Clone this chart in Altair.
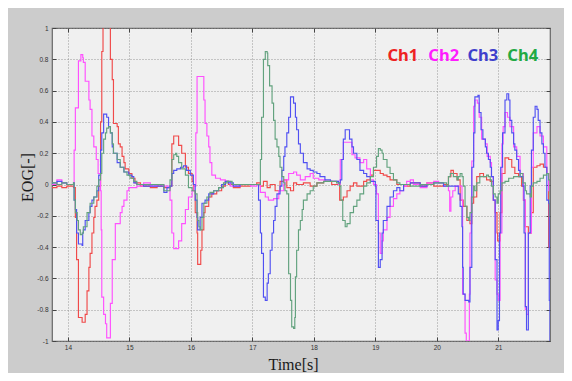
import altair as alt
import pandas as pd

# ---------------- data ----------------
channels = ["Ch1", "Ch2", "Ch3", "Ch4"]

ch1_t = [13.74, 13.82, 13.90, 13.98, 14.09, 14.12, 14.14, 14.17, 14.23, 14.28, 14.31, 14.34, 14.36, 14.39,
         14.42, 14.44, 14.47, 14.50, 14.53, 14.55, 14.57, 14.66, 14.69, 14.72, 14.74, 14.80, 14.82, 14.85,
         14.88, 14.91, 14.93, 14.99, 15.04, 15.09, 15.18, 15.34, 15.45, 15.56, 15.66, 15.69, 15.72, 15.77,
         15.80, 15.85, 15.91, 15.96, 16.02, 16.04, 16.07, 16.10, 16.11, 16.16, 16.18, 16.21, 16.23, 16.29,
         16.34, 16.42, 16.50, 16.56, 16.61, 16.69, 16.80, 16.97, 17.07, 17.13, 17.18, 17.24, 17.29, 17.37,
         17.45, 17.51, 17.56, 17.62, 17.67, 17.72, 17.83, 17.94, 18.05, 18.16, 18.29, 18.42, 18.48, 18.54,
         18.59, 18.645, 18.70, 18.81, 18.86, 18.92, 18.97, 19.08, 19.13, 19.19, 19.24, 19.35, 19.46, 19.57,
         19.73, 19.84, 19.95, 20.11, 20.19, 20.23, 20.27, 20.33, 20.38, 20.43, 20.49, 20.54, 20.57, 20.60,
         20.65, 20.70, 20.76, 20.81, 20.87, 20.92, 20.95, 20.98, 20.99, 21.03, 21.06, 21.11, 21.17, 21.22,
         21.27, 21.33, 21.38, 21.41, 21.44, 21.49, 21.54, 21.57, 21.63, 21.68, 21.735, 21.79, 21.82, 21.842]
ch1_v = [-0.02, -0.01, -0.02, -0.01, -0.02, -0.21, -0.48, -0.85, -0.88, -0.83, -0.68, -0.53, -0.44, -0.31,
         -0.21, -0.14, -0.10, -0.01, 0.40, 0.85, 1.2, 1.2, 0.80, 0.67, 0.39, 0.37, 0.26, 0.24,
         0.18, 0.14, 0.10, 0.07, 0.04, 0.01, -0.01, -0.02, -0.01, -0.02, -0.01, 0.26, 0.31, 0.31,
         0.25, 0.20, 0.11, 0.07, 0.02, -0.04, -0.18, -0.31, -0.51, -0.42, -0.29, -0.18, -0.14, -0.08,
         -0.06, -0.04, -0.01, 0.02, 0.00, -0.02, -0.01, 0.00, 0.01, -0.01, 0.02, -0.02, 0.00, -0.04,
         0.02, 0.03, -0.02, -0.04, 0.01, 0.00, 0.01, -0.01, 0.01, 0.02, 0.00, -0.10, -0.08, -0.04,
         -0.01, 0.01, -0.01, 0.02, 0.03, 0.06, 0.09, 0.07, 0.06, 0.05, 0.03, 0.00, -0.01, 0.01,
         -0.01, 0.01, -0.01, 0.00, 0.05, 0.09, 0.07, 0.03, -0.10, -0.14, -0.23, -0.25, -0.12, -0.08,
         0.05, 0.07, 0.05, 0.03, 0.02, -0.10, -0.18, -0.31, -0.36, -0.18, 0.07, 0.17, 0.16, 0.11,
         0.07, 0.05, -0.01, -0.10, -0.27, -0.31, -0.18, 0.11, 0.12, 0.13, 0.11, 0.07, -0.40, -0.40]

ch2_t = [13.74, 13.82, 13.90, 13.98, 14.09, 14.10, 14.12, 14.17, 14.21, 14.24, 14.25, 14.28, 14.34, 14.36,
         14.39, 14.42, 14.46, 14.49, 14.53, 14.54, 14.55, 14.58, 14.61, 14.63, 14.69, 14.72, 14.77, 14.85,
         14.88, 14.91, 14.96, 14.99, 15.12, 15.23, 15.34, 15.45, 15.56, 15.66, 15.69, 15.72, 15.80, 15.85,
         15.91, 15.96, 16.02, 16.05, 16.08, 16.10, 16.20, 16.21, 16.23, 16.26, 16.29, 16.31, 16.34, 16.40,
         16.48, 16.56, 16.64, 16.80, 16.97, 17.07, 17.13, 17.21, 17.26, 17.345, 17.43, 17.51, 17.53, 17.59,
         17.67, 17.72, 17.78, 17.86, 17.94, 17.99, 18.08, 18.18, 18.29, 18.40, 18.43, 18.48, 18.59, 18.62,
         18.67, 18.75, 18.81, 18.86, 18.92, 18.97, 19.02, 19.05, 19.08, 19.11, 19.13, 19.19, 19.24, 19.295,
         19.35, 19.40, 19.46, 19.51, 19.57, 19.62, 19.73, 19.84, 19.95, 20.03, 20.11, 20.19, 20.21, 20.23,
         20.26, 20.30, 20.35, 20.41, 20.42, 20.46, 20.48, 20.53, 20.54, 20.56, 20.57, 20.60, 20.62, 20.66,
         20.69, 20.73, 20.79, 20.82, 20.87, 20.89, 20.92, 20.95, 20.98, 21.00, 21.03, 21.06, 21.08, 21.11,
         21.15, 21.19, 21.25, 21.30, 21.355, 21.41, 21.44, 21.46, 21.49, 21.54, 21.57, 21.63, 21.68, 21.735,
         21.79, 21.82, 21.842]
ch2_v = [0.00, 0.03, 0.01, 0.00, 0.00, 0.22, 0.49, 0.79, 0.83, 0.81, 0.78, 0.66, 0.54, 0.48,
         0.31, 0.24, 0.16, 0.07, -0.04, -0.29, -0.72, -0.83, -0.89, -0.98, -0.76, -0.48, -0.25, -0.18,
         -0.14, -0.10, -0.04, -0.02, -0.01, 0.01, -0.01, 0.00, -0.01, -0.10, -0.31, -0.41, -0.36, -0.25,
         -0.16, -0.08, -0.04, -0.01, 0.33, 0.69, 0.69, 0.54, 0.39, 0.31, 0.24, 0.14, 0.06, 0.04,
         0.03, 0.02, -0.01, 0.00, -0.01, 0.00, -0.05, -0.08, -0.10, -0.09, -0.04, 0.00, 0.03, 0.07,
         0.08, 0.06, 0.03, 0.05, 0.07, 0.04, 0.03, 0.02, 0.02, 0.00, 0.16, 0.27, 0.27, 0.19,
         0.17, 0.14, 0.16, 0.10, 0.03, 0.00, -0.06, -0.31, -0.44, -0.36, -0.29, -0.21, -0.14, -0.09,
         -0.06, -0.04, -0.01, 0.02, 0.03, 0.00, -0.02, 0.01, 0.02, 0.01, -0.01, -0.04, -0.17, -0.08,
         -0.04, -0.01, -0.01, -0.10, -0.70, -0.95, -1.0, -0.70, -0.31, -0.08, 0.15, 0.50, 0.54, 0.52,
         0.43, 0.29, 0.26, 0.18, 0.14, 0.05, -0.10, -0.61, -0.70, -0.74, -0.31, 0.26, 0.37, 0.46,
         0.43, 0.37, 0.24, 0.18, 0.07, -0.10, -0.80, -0.83, -0.31, 0.11, 0.33, 0.37, 0.31, 0.24,
         0.07, -0.04, -0.04]

ch3_t = [13.74, 13.82, 13.90, 13.98, 14.09, 14.10, 14.12, 14.14, 14.17, 14.23, 14.24, 14.25, 14.28, 14.34,
         14.36, 14.39, 14.42, 14.47, 14.50, 14.53, 14.55, 14.58, 14.63, 14.66, 14.69, 14.72, 14.74, 14.80,
         14.85, 14.91, 14.99, 15.04, 15.07, 15.12, 15.23, 15.34, 15.45, 15.56, 15.61, 15.66, 15.69, 15.72,
         15.77, 15.83, 15.88, 15.93, 15.99, 16.04, 16.07, 16.10, 16.11, 16.15, 16.18, 16.23, 16.29, 16.37,
         16.45, 16.50, 16.56, 16.61, 16.69, 16.80, 16.97, 17.10, 17.13, 17.15, 17.18, 17.21, 17.24, 17.26,
         17.29, 17.32, 17.345, 17.37, 17.40, 17.45, 17.48, 17.51, 17.53, 17.56, 17.59, 17.62, 17.67, 17.70,
         17.72, 17.75, 17.78, 17.83, 17.89, 17.94, 17.99, 18.05, 18.10, 18.18, 18.27, 18.40, 18.43, 18.455,
         18.48, 18.51, 18.58, 18.62, 18.645, 18.70, 18.75, 18.81, 18.86, 18.92, 19.00, 19.01, 19.05, 19.08,
         19.11, 19.13, 19.19, 19.24, 19.295, 19.35, 19.40, 19.46, 19.57, 19.73, 19.84, 19.95, 20.11, 20.33,
         20.35, 20.38, 20.41, 20.42, 20.43, 20.46, 20.52, 20.54, 20.57, 20.60, 20.62, 20.67, 20.69, 20.72,
         20.75, 20.79, 20.81, 20.84, 20.87, 20.89, 20.92, 20.95, 20.98, 21.00, 21.02, 21.04, 21.07, 21.11,
         21.14, 21.17, 21.19, 21.22, 21.25, 21.27, 21.30, 21.33, 21.355, 21.40, 21.42, 21.44, 21.46, 21.49,
         21.52, 21.54, 21.57, 21.60, 21.63, 21.65, 21.68, 21.71, 21.735, 21.76, 21.79, 21.82, 21.83, 21.842]
ch3_v = [0.01, 0.02, 0.01, 0.00, 0.01, -0.10, -0.16, -0.31, -0.38, -0.39, -0.31, -0.29, -0.23, -0.18,
         -0.14, -0.10, -0.08, -0.04, 0.06, 0.22, 0.33, 0.45, 0.43, 0.37, 0.33, 0.24, 0.20, 0.14,
         0.11, 0.08, 0.06, 0.05, 0.01, 0.00, -0.01, -0.01, -0.01, -0.05, -0.02, -0.01, 0.07, 0.09,
         0.10, 0.11, 0.12, 0.09, 0.06, 0.00, -0.10, -0.21, -0.29, -0.21, -0.12, -0.10, -0.06, -0.04,
         -0.02, 0.00, 0.02, 0.01, -0.01, 0.00, 0.00, -0.10, -0.31, -0.44, -0.72, -0.74, -0.63, -0.57,
         -0.42, -0.31, -0.23, -0.14, -0.06, -0.01, 0.09, 0.18, 0.24, 0.33, 0.43, 0.56, 0.52, 0.43,
         0.35, 0.26, 0.20, 0.14, 0.10, 0.09, 0.08, 0.07, 0.05, 0.03, 0.02, 0.01, 0.03, 0.16,
         0.29, 0.35, 0.29, 0.24, 0.20, 0.16, 0.09, 0.07, 0.05, 0.02, -0.01, -0.23, -0.53, -0.48,
         -0.31, -0.23, -0.14, -0.08, -0.04, -0.02, -0.04, 0.00, 0.01, -0.01, 0.00, 0.01, -0.01, -0.01,
         -0.06, -0.14, -0.27, -0.53, -0.70, -0.74, -0.75, -0.53, 0.11, 0.33, 0.56, 0.57, 0.46, 0.35,
         0.29, 0.24, 0.20, 0.16, 0.11, 0.05, -0.10, -0.48, -0.93, -0.87, -0.31, 0.11, 0.33, 0.54,
         0.58, 0.54, 0.41, 0.33, 0.26, 0.22, 0.16, 0.09, 0.05, -0.01, -0.31, -0.78, -0.93, -0.31,
         -0.01, 0.22, 0.43, 0.50, 0.48, 0.41, 0.33, 0.26, 0.20, 0.11, -0.10, -0.12, -0.74, -1.0]

ch4_t = [13.74, 13.82, 13.90, 13.98, 14.09, 14.10, 14.12, 14.15, 14.17, 14.20, 14.23, 14.25, 14.31, 14.36,
         14.42, 14.47, 14.50, 14.53, 14.55, 14.58, 14.61, 14.63, 14.66, 14.69, 14.72, 14.74, 14.80, 14.85,
         14.91, 14.96, 15.01, 15.07, 15.12, 15.34, 15.56, 15.66, 15.69, 15.72, 15.75, 15.77, 15.80, 15.85,
         15.91, 15.96, 16.02, 16.07, 16.10, 16.11, 16.13, 16.15, 16.18, 16.21, 16.26, 16.31, 16.37, 16.45,
         16.53, 16.59, 16.67, 16.80, 17.10, 17.13, 17.15, 17.18, 17.21, 17.24, 17.25, 17.28, 17.32, 17.345,
         17.37, 17.40, 17.43, 17.45, 17.48, 17.51, 17.53, 17.56, 17.59, 17.62, 17.64, 17.67, 17.69, 17.70,
         17.72, 17.75, 17.78, 17.81, 17.83, 17.89, 17.94, 17.99, 18.05, 18.16, 18.29, 18.37, 18.42, 18.44,
         18.47, 18.51, 18.54, 18.59, 18.645, 18.70, 18.75, 18.81, 18.86, 18.92, 18.97, 19.02, 19.05, 19.08,
         19.11, 19.13, 19.19, 19.24, 19.295, 19.35, 19.40, 19.57, 19.73, 19.95, 20.16, 20.19, 20.22, 20.27,
         20.33, 20.35, 20.38, 20.41, 20.43, 20.46, 20.49, 20.52, 20.54, 20.57, 20.60, 20.62, 20.65, 20.70,
         20.81, 20.84, 20.87, 20.89, 20.92, 20.95, 20.98, 21.00, 21.03, 21.06, 21.11, 21.17, 21.25, 21.30,
         21.355, 21.40, 21.44, 21.46, 21.52, 21.54, 21.57, 21.63, 21.68, 21.735, 21.79, 21.82, 21.842]
ch4_v = [0.01, 0.00, 0.01, 0.00, 0.01, -0.10, -0.18, -0.23, -0.29, -0.32, -0.31, -0.27, -0.18, -0.12,
         -0.08, -0.01, 0.03, 0.07, 0.20, 0.29, 0.33, 0.36, 0.37, 0.33, 0.26, 0.20, 0.16, 0.11,
         0.08, 0.06, 0.04, 0.02, 0.00, 0.00, -0.04, 0.03, 0.16, 0.19, 0.20, 0.18, 0.14, 0.10,
         0.06, -0.02, -0.04, -0.06, -0.18, -0.23, -0.27, -0.29, -0.21, -0.12, -0.08, -0.05, -0.04, -0.02,
         0.01, 0.02, 0.00, 0.00, 0.00, 0.16, 0.43, 0.80, 0.85, 0.84, 0.76, 0.63, 0.52, 0.41,
         0.29, 0.24, 0.18, 0.11, 0.05, 0.01, -0.04, -0.06, -0.57, -0.74, -0.91, -0.92, -0.85, -0.59,
         -0.42, -0.29, -0.23, -0.16, -0.10, -0.06, -0.04, -0.01, 0.01, 0.02, 0.02, 0.01, -0.01, -0.10,
         -0.23, -0.27, -0.25, -0.18, -0.14, -0.10, -0.06, -0.01, 0.01, 0.05, 0.11, 0.18, 0.23, 0.22,
         0.20, 0.16, 0.11, 0.07, 0.03, 0.01, 0.00, -0.01, 0.00, 0.01, -0.01, 0.05, 0.07, 0.05,
         0.03, 0.05, 0.07, 0.05, -0.01, -0.14, -0.21, -0.23, -0.18, -0.08, -0.01, -0.04, 0.01, 0.05,
         0.06, 0.05, 0.03, -0.01, -0.06, -0.08, -0.12, -0.06, -0.04, 0.01, 0.02, 0.04, 0.05, 0.05,
         0.07, 0.01, -0.04, -0.06, -0.08, -0.01, 0.01, 0.02, 0.04, 0.06, 0.07, 0.03, -0.21]

x_ticks = [14, 15, 16, 17, 18, 19, 20, 21]
y_ticks = [-1, -0.8, -0.6, -0.4, -0.2, 0, 0.2, 0.4, 0.6, 0.8, 1]

# legend words: placed in data space (time, value)
legend_t = [19.197, 19.863, 20.498, 21.148]
legend_v = [0.787, 0.787, 0.787, 0.787]

line_colors = ["#f04a4a", "#ff50ff", "#5050f2", "#62a27e"]
text_colors = ["#ee2222", "#ff1cff", "#3f3fcc", "#22aa44"]

# ---------------- build tables ----------------
rows = []
for name, ts, vs in zip(channels, [ch1_t, ch2_t, ch3_t, ch4_t], [ch1_v, ch2_v, ch3_v, ch4_v]):
    for t, v in zip(ts, vs):
        rows.append({"ch": name, "t": t, "v": v})
df = pd.DataFrame(rows)

leg = pd.DataFrame({"ch": channels, "t": legend_t, "v": legend_v})

xscale = alt.Scale(domain=[13.74, 21.842], nice=False, zero=False)
yscale = alt.Scale(domain=[-1, 1], nice=False, zero=False)

grid_kw = dict(grid=True, gridColor="#8c8c8c", gridDash=[1, 2], gridWidth=0.9)

lines = alt.Chart(df).mark_line(
    interpolate="step-after", clip=True, strokeWidth=1.15
).encode(
    x=alt.X("t:Q", scale=xscale,
            axis=alt.Axis(values=x_ticks, title="Time[s]", ticks=False, tickSize=0, domain=False,
                          labelFontSize=6.5, labelFont="Liberation Sans", labelColor="#333333",
                          labelPadding=3, labelExpr="'' + datum.value",
                          titleFont="Liberation Serif", titleFontSize=16, titleFontWeight="normal",
                          titleColor="#1a1a1a", titleX=241, titleY=28, titleBaseline="alphabetic",
                          titleAlign="center", **grid_kw)),
    y=alt.Y("v:Q", scale=yscale,
            axis=alt.Axis(values=y_ticks, title="EOG[-]", ticks=False, tickSize=0, domain=False,
                          labelFontSize=6.5, labelFont="Liberation Sans", labelColor="#333333",
                          labelPadding=4, labelExpr="'' + datum.value",
                          titleFont="Liberation Serif", titleFontSize=16, titleFontWeight="normal",
                          titleColor="#1a1a1a", titleX=-25, titleY=149, titleBaseline="middle",
                          titleAlign="center", titleAngle=270, **grid_kw)),
    color=alt.Color("ch:N", scale=alt.Scale(domain=channels, range=line_colors), legend=None),
)

def tick_axis(orient, values):
    return alt.Axis(orient=orient, values=values, offset=-4, tickSize=4, ticks=True,
                    tickColor="#444444", tickWidth=1, labels=False, domain=False,
                    grid=False, title=None)

legend_a = alt.Chart(leg).transform_filter(
    alt.FieldOneOfPredicate(field="ch", oneOf=channels[:2])
).mark_text(align="left", baseline="alphabetic", fontSize=16.5, font="Noto Sans",
            fontWeight="bold").encode(
    x=alt.X("t:Q", scale=xscale, axis=tick_axis("bottom", x_ticks)),
    y=alt.Y("v:Q", scale=yscale, axis=tick_axis("left", y_ticks)),
    text="ch:N",
    color=alt.Color("ch:N", scale=alt.Scale(domain=channels, range=text_colors), legend=None),
)

legend_b = alt.Chart(leg).transform_filter(
    alt.FieldOneOfPredicate(field="ch", oneOf=channels[2:])
).mark_text(align="left", baseline="alphabetic", fontSize=16.5, font="Noto Sans",
            fontWeight="bold").encode(
    x=alt.X("t:Q", scale=xscale, axis=tick_axis("top", x_ticks)),
    y=alt.Y("v:Q", scale=yscale, axis=tick_axis("right", y_ticks)),
    text="ch:N",
    color=alt.Color("ch:N", scale=alt.Scale(domain=channels, range=text_colors), legend=None),
)

chart = alt.layer(lines, legend_a, legend_b).resolve_scale(
    color="independent"
).resolve_axis(
    x="independent", y="independent"
).properties(
    width=498, height=313,
    padding={"left": 44, "top": 20, "right": 14, "bottom": 32},
    autosize=alt.AutoSizeParams(type="none"),
).configure(
    background="#cccccc"
).configure_view(
    fill="#f0f0f0", stroke="#666666", strokeWidth=1.2
)

chart.save("out.html", embed_options={"renderer": "svg", "actions": False})
